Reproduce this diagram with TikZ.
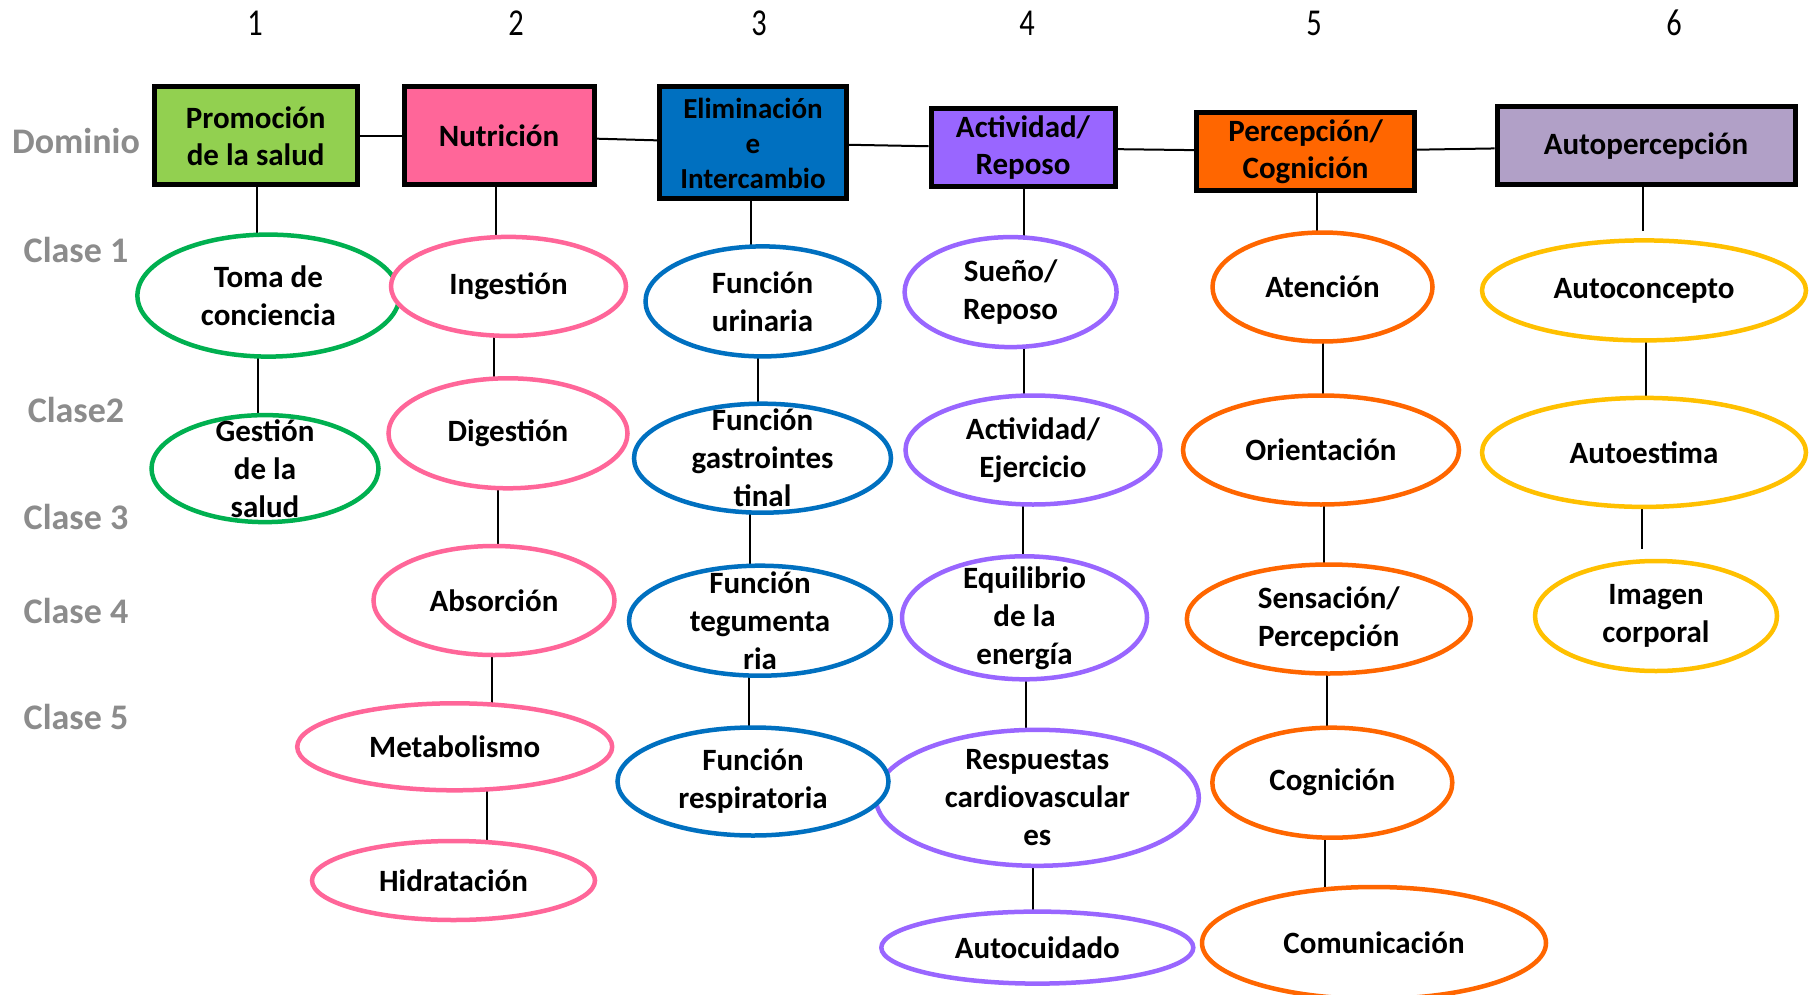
\documentclass[tikz,border=0pt]{standalone}
\usepackage{fontspec}
\usepackage{graphicx}
\setmainfont{Carlito}
\usetikzlibrary{shapes.geometric,calc}
\pgfdeclarelayer{background}
\pgfdeclarelayer{canvas}
\pgfsetlayers{canvas,background,main}
\definecolor{cgreenbox}{HTML}{92D050}
\definecolor{cpink}{HTML}{FF6699}
\definecolor{cblue}{HTML}{0070C0}
\definecolor{cpurple}{HTML}{9966FF}
\definecolor{corange}{HTML}{FF6600}
\definecolor{clav}{HTML}{B1A0C7}
\definecolor{cgreen}{HTML}{00B050}
\definecolor{cyellow}{HTML}{FFC000}
\definecolor{cgraytxt}{HTML}{8C8C8C}
\tikzset{
  dombox/.style={draw=black, line width=5pt, rectangle, inner sep=0pt, align=center,
    font=\bfseries\fontsize{31}{37}\selectfont},
  classell/.style={draw=#1, line width=4.5pt, ellipse, fill=white, inner sep=-14pt, align=center,
    font=\bfseries\fontsize{31}{38}\selectfont},
  rowlbl/.style={text=cgraytxt, font=\bfseries\fontsize{36}{40}\selectfont, inner sep=0pt},
  collbl/.style={font=\fontsize{38}{40}\selectfont, inner sep=0pt},
  conn/.style={draw=black, line width=2pt}
}
\newcommand\vconn[3]{\draw[conn] let \p1=(#1.center), \p2=(#2.center) in (#3pt,\y1) -- (#3pt,\y2);}
\begin{document}
\begin{tikzpicture}[x=1pt,y=-1pt]
\useasboundingbox (0,0) rectangle (1814,995);
\begin{pgfonlayer}{canvas}
\fill[white] (0,0) rectangle (1814,995);
\end{pgfonlayer}

% column numbers
\node[collbl] (n1) at (255,23) {\scalebox{0.8}[1]{1}};
\node[collbl] (n2) at (516,23) {\scalebox{0.8}[1]{2}};
\node[collbl] (n3) at (759,23) {\scalebox{0.8}[1]{3}};
\node[collbl] (n4) at (1027,23) {\scalebox{0.8}[1]{4}};
\node[collbl] (n5) at (1314,23) {\scalebox{0.8}[1]{5}};
\node[collbl] (n6) at (1674,23) {\scalebox{0.8}[1]{6}};

% row labels
\node[rowlbl] (rdom) at (76,141) {Dominio};
\node[rowlbl] (rc1) at (76,250) {Clase 1};
\node[rowlbl] (rc2) at (76,410) {Clase2};
\node[rowlbl] (rc3) at (76,517) {Clase 3};
\node[rowlbl] (rc4) at (76,611) {Clase 4};
\node[rowlbl] (rc5) at (76,717) {Clase 5};

% domain boxes
\node[dombox, fill=cgreenbox, minimum width=203, minimum height=98] (b1) at (255.7,136) {Promoción\\de la salud};
\node[dombox, fill=cpink, minimum width=190, minimum height=98] (b2) at (499,136) {Nutrición};
\node[dombox, fill=cblue, minimum width=187, minimum height=112, font=\bfseries\fontsize{29}{35}\selectfont] (b3) at (753,143) {Eliminación\\e\\Intercambio};
\node[dombox, fill=cpurple, minimum width=184, minimum height=78] (b4) at (1023,148) {Actividad/\\Reposo};
\node[dombox, fill=corange, minimum width=218, minimum height=78] (b5) at (1305.6,151.5) {Percepción/\\Cognición};
\node[dombox, fill=clav, minimum width=298, minimum height=78] (b6) at (1646,146) {Autopercepción};

% column 1
\node[classell=cgreen, minimum width=262, minimum height=122] (toma) at (268.4,295.6) {Toma de\\conciencia};
\node[classell=cgreen, minimum width=227, minimum height=107] (gest) at (265,468.6) {Gestión\\de la\\salud};
% column 2
\node[classell=cpink, minimum width=235, minimum height=99] (ing) at (508.5,286.4) {Ingestión};
\node[classell=cpink, minimum width=239, minimum height=110] (dig) at (508,433.3) {Digestión};
\node[classell=cpink, minimum width=241, minimum height=109] (abso) at (494,600.5) {Absorción};
\node[classell=cpink, minimum width=315, minimum height=87] (met) at (454.7,746.8) {Metabolismo};
\node[classell=cpink, minimum width=283, minimum height=79] (hid) at (453.5,880.5) {Hidratación};
% column 4
\node[classell=cpurple, minimum width=212, minimum height=110] (sue) at (1010.6,292.1) {Sueño/\\Reposo};
\node[classell=cpurple, minimum width=255, minimum height=109] (act) at (1033,450) {Actividad/\\Ejercicio};
\node[classell=cpurple, minimum width=245, minimum height=123] (equ) at (1024.5,617.8) {Equilibrio\\de la\\energía};
\node[classell=cpurple, minimum width=323, minimum height=136] (rcv) at (1037.3,797.8) {Respuestas\\cardiovascular\\es};
\node[classell=cpurple, minimum width=312, minimum height=72] (acu) at (1037.3,947.6) {Autocuidado};
% column 3
\node[classell=cblue, minimum width=234, minimum height=110] (uri) at (762.5,301.4) {Función\\urinaria};
\node[classell=cblue, minimum width=257, minimum height=109] (gas) at (762.5,458.2) {Función\\gastrointes\\tinal};
\node[classell=cblue, minimum width=262, minimum height=110] (teg) at (760,620.7) {Función\\tegumenta\\ria};
\node[classell=cblue, minimum width=271, minimum height=108] (resp) at (753,781.5) {Función\\respiratoria};
% column 5
\node[classell=corange, minimum width=220, minimum height=109] (ate) at (1322.5,287) {Atención};
\node[classell=corange, minimum width=276, minimum height=109] (ori) at (1321,450) {Orientación};
\node[classell=corange, minimum width=284, minimum height=109] (sen) at (1328.8,619) {Sensación/\\Percepción};
\node[classell=corange, minimum width=240, minimum height=110] (cog) at (1332.3,782.7) {Cognición};
\node[classell=corange, minimum width=344, minimum height=112] (com) at (1374,943) {Comunicación};
% column 6
\node[classell=cyellow, minimum width=324, minimum height=100] (aco) at (1644,290.4) {Autoconcepto};
\node[classell=cyellow, minimum width=324, minimum height=109] (aes) at (1644,452.4) {Autoestima};
\node[classell=cyellow, minimum width=242, minimum height=110] (img) at (1656,616) {Imagen\\corporal};

\begin{pgfonlayer}{background}
  \draw[conn] (b1) -- (b2);
  \draw[conn] (b2) -- (b3);
  \draw[conn] (b3) -- (b4);
  \draw[conn] (b4) -- (b5);
  \draw[conn] (b5) -- (b6);
  \vconn{b1}{toma}{256.9}
  \vconn{toma}{gest}{258}
  \vconn{b2}{ing}{496.4}
  \vconn{ing}{dig}{494}
  \vconn{dig}{abso}{497.5}
  \vconn{abso}{met}{491.7}
  \vconn{met}{hid}{487}
  \vconn{b3}{uri}{751}
  \vconn{uri}{gas}{758}
  \vconn{gas}{teg}{749.7}
  \vconn{teg}{resp}{748.6}
  \vconn{b4}{sue}{1024}
  \vconn{sue}{act}{1024}
  \vconn{act}{equ}{1023}
  \vconn{equ}{rcv}{1026.3}
  \vconn{rcv}{acu}{1033}
  \vconn{b5}{ate}{1316.7}
  \vconn{ate}{ori}{1322.5}
  \vconn{ori}{sen}{1323.6}
  \vconn{sen}{cog}{1327}
  \vconn{cog}{com}{1324.8}
  \draw[conn] let \p1=(b6.center), \p2=(aco.north) in (1643pt,\y1) -- (1643pt,\y2+7pt);
  \vconn{aco}{aes}{1646.4}
  \draw[conn] let \p1=(aes.center), \p2=(img.north) in (1641.8pt,\y1) -- (1641.8pt,\y2+10pt);
\end{pgfonlayer}
\end{tikzpicture}
\end{document}
